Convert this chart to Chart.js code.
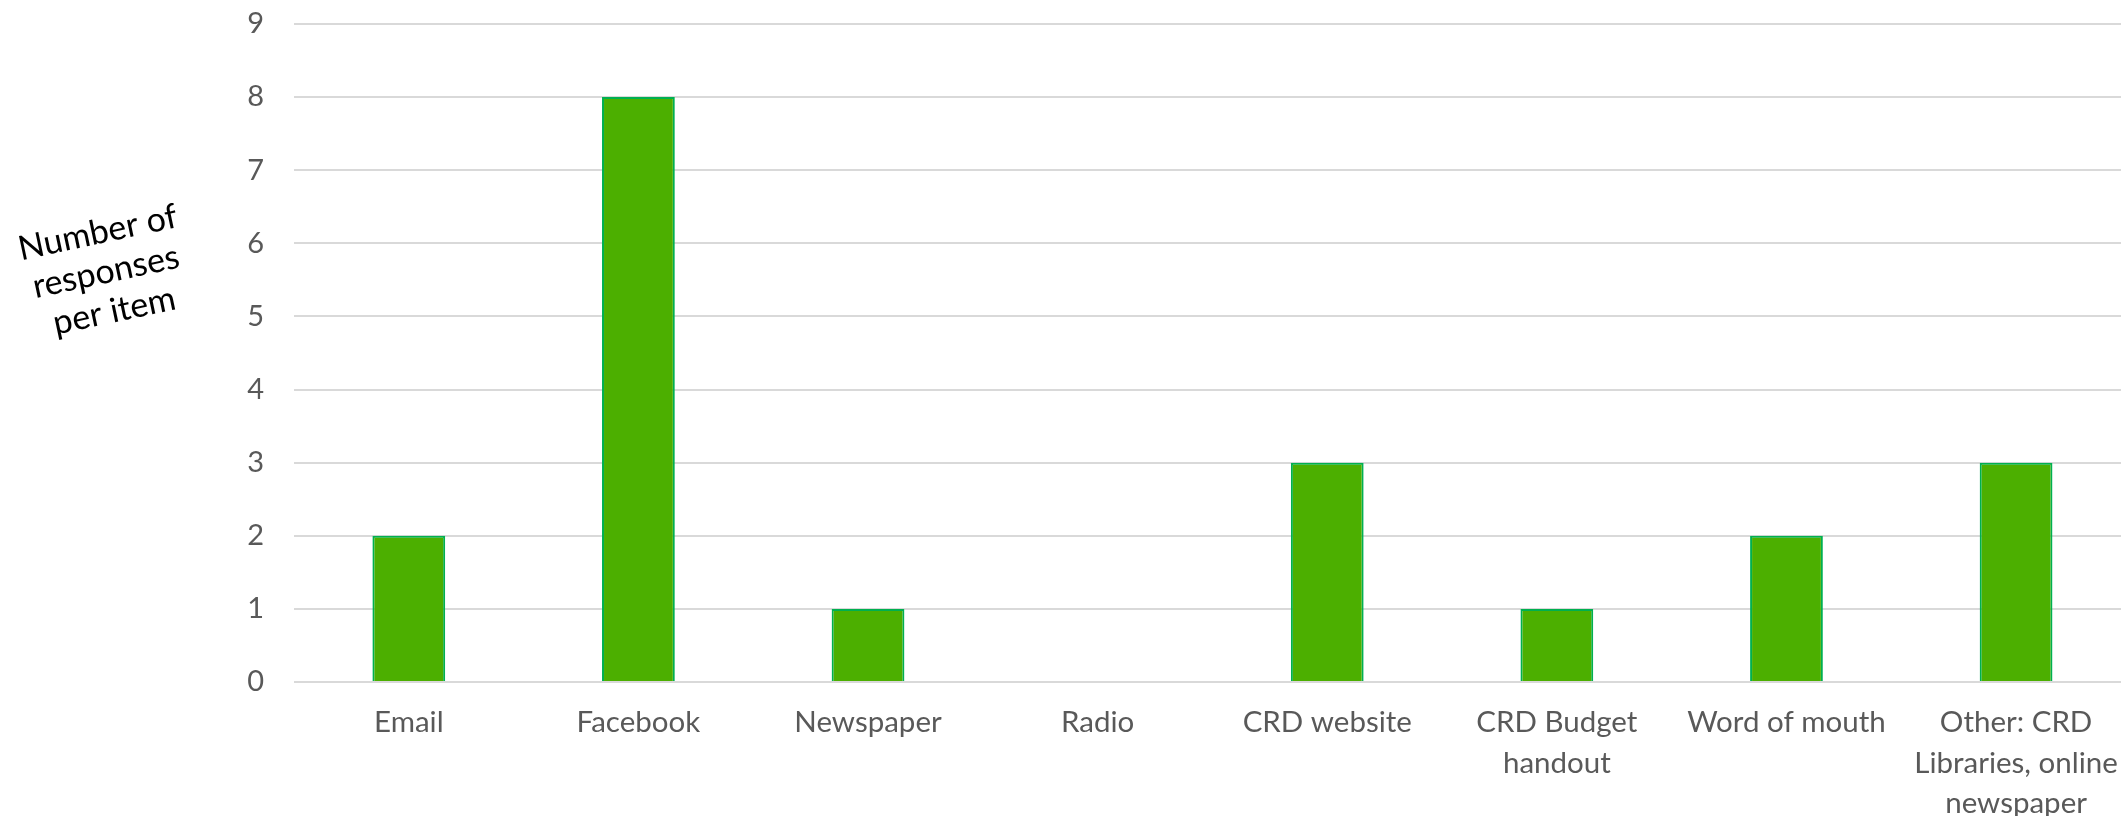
<!DOCTYPE html>
<html>
<head>
<meta charset="utf-8">
<script src="https://cdn.jsdelivr.net/npm/chart.js@4/dist/chart.umd.min.js"></script>
<style>
  html, body { margin: 0; padding: 0; background: #fff; overflow: hidden; }
  #wrap { position: relative; width: 2138px; height: 816px; }
</style>
</head>
<body>
<div id="wrap"><canvas id="chart"></canvas></div>
<script>
// chart data
const categories = [
    'Email',
    'Facebook',
    'Newspaper',
    'Radio',
    'CRD website',
    ['CRD Budget', 'handout'],
    'Word of mouth',
    ['Other: CRD', 'Libraries, online', 'newspaper']
];
const responses = [2, 8, 1, 0, 3, 1, 2, 3];
const yTicks = [0, 1, 2, 3, 4, 5, 6, 7, 8, 9];
const yTitle = ['Number of', 'responses', 'per item'];

const FONT = 'Lato, "Open Sans", sans-serif';

// tilted axis title, drawn by hand since Chart.js only rotates 90deg
const tiltedTitle = {
    id: 'tiltedTitle',
    afterDraw(chart) {
        const ctx = chart.ctx;
        ctx.save();
        ctx.translate(106, 272);
        ctx.rotate(-12 * Math.PI / 180);
        ctx.font = '34px ' + FONT;
        ctx.fillStyle = '#000';
        ctx.textAlign = 'center';
        ctx.textBaseline = 'middle';
        yTitle.forEach((line, i) => {
            ctx.fillText(line, 0, (i - 1) * 40);
        });
        ctx.restore();
    }
};

const ctx = document.getElementById('chart').getContext('2d');
new Chart(ctx, {
    type: 'bar',
    data: {
        labels: categories,
        datasets: [{
            data: responses,
            backgroundColor: '#4caf00',
            borderColor: '#00b050',
            borderWidth: 2,
            categoryPercentage: 1,
            barPercentage: 0.317
        }]
    },
    options: {
        responsive: true,
        maintainAspectRatio: false,
        animation: false,
        layout: { padding: { top: 0, right: 2, left: 0, bottom: 0 } },
        plugins: {
            legend: { display: false },
            tooltip: { enabled: false }
        },
        scales: {
            x: {
                grid: { display: false, drawTicks: false },
                border: { display: false },
                ticks: {
                    color: '#595959',
                    font: { family: FONT, size: 29.5, lineHeight: 1.38 },
                    padding: 20,
                    maxRotation: 0,
                    autoSkip: false
                },
                afterFit: function (scale) { scale.height = 134; }
            },
            y: {
                min: 0,
                max: 9,
                afterBuildTicks: function (scale) {
                    scale.ticks = yTicks.map(v => ({ value: v }));
                },
                grid: { color: '#d9d9d9', lineWidth: 2, drawTicks: false },
                border: { display: false },
                ticks: {
                    color: '#595959',
                    font: { family: FONT, size: 29 },
                    padding: 30
                },
                afterFit: function (scale) {
                    scale.width = 294;
                    scale.paddingTop = 24;
                    scale.paddingBottom = 0;
                }
            }
        }
    },
    plugins: [tiltedTitle]
});
</script>
</body>
</html>
